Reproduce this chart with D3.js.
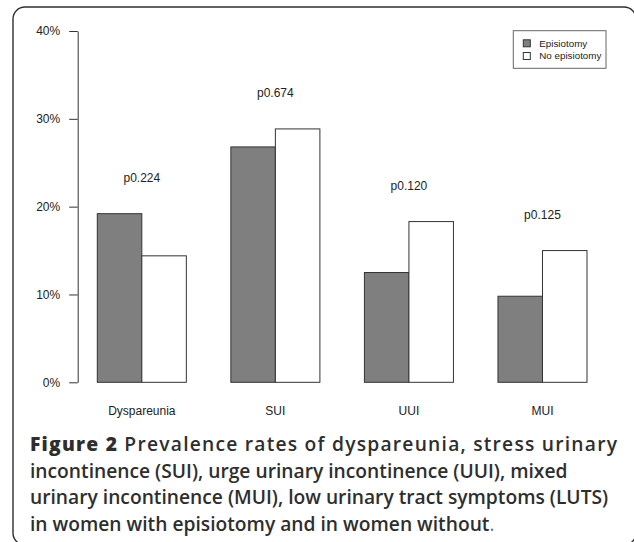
<!DOCTYPE html>
<html>
<head>
<meta charset="utf-8">
<script src="https://cdn.jsdelivr.net/npm/d3@7"></script>
<style>
body {margin: 0; background: #fff;}
svg {display: block;}
</style>
</head>
<body>
<script>
// prevalence (%)
var categories = ["Dyspareunia", "SUI", "UUI", "MUI"]
var groups = ["Episiotomy", "No episiotomy"]
var episiotomy = [19.2, 26.8, 12.5, 9.8]
var noEpisiotomy = [14.4, 28.85, 18.3, 15.0]
var pValues = ["p0.224", "p0.674", "p0.120", "p0.125"]
var yTicks = [0, 10, 20, 30, 40]

var captionLabel = "Figure 2"
var captionLines = [
    "Prevalence rates of dyspareunia, stress urinary",
    "incontinence (SUI), urge urinary incontinence (UUI), mixed",
    "urinary incontinence (MUI), low urinary tract symptoms (LUTS)",
    "in women with episiotomy and in women without"
]

var screen = {width: 634, height: 542}
var plot = {left: 97.3, right: 587, top: 31, bottom: 382.3, axisX: 77.7}

var svg = d3.select("body")
    .append("svg")
    .attr("width", screen.width)
    .attr("height", screen.height)

// frame around the figure
svg.append("rect")
    .attr("x", 13)
    .attr("y", 7)
    .attr("width", 623)
    .attr("height", 538)
    .attr("rx", 12)
    .attr("fill", "none")
    .attr("stroke", "#2f2f2f")
    .attr("stroke-width", 1.4)

var yScale = d3.scaleLinear()
    .domain([0, 40])
    .range([plot.bottom, plot.top])

var xScale = d3.scaleBand()
    .domain(categories)
    .range([plot.left, plot.right])
    .paddingInner(1/3)
    .paddingOuter(0)

var subScale = d3.scaleBand()
    .domain(groups)
    .range([0, xScale.bandwidth()])

var cScale = d3.scaleOrdinal()
    .domain(groups)
    .range(["#7f7f7f", "#ffffff"])

var yAxis = d3.axisLeft(yScale)
    .tickValues(yTicks)
    .tickFormat(function(d) {return d + "%"})
    .tickSize(8.5)
    .tickSizeOuter(0)
    .tickPadding(9)

var axisG = svg.append("g")
    .attr("transform", "translate(" + plot.axisX + ",0)")
    .call(yAxis)

axisG.selectAll("path, line").attr("stroke", "#333")
axisG.selectAll("text")
    .attr("font-family", "'Liberation Sans', Arial, sans-serif")
    .attr("font-size", 12)
    .attr("fill", "#222")

var rows = categories.map(function(c, i) {
    return {name: c, values: [episiotomy[i], noEpisiotomy[i]], p: pValues[i]}
})

var groupG = svg.append("g")
    .selectAll("g")
    .data(rows)
    .enter()
    .append("g")
    .attr("transform", function(d) {return "translate(" + xScale(d.name) + ",0)"})

groupG.selectAll("rect")
    .data(function(d) {
        return groups.map(function(g, j) {return {group: g, value: d.values[j]}})
    })
    .enter()
    .append("rect")
    .attr("x", function(d) {return subScale(d.group)})
    .attr("y", function(d) {return yScale(d.value)})
    .attr("width", subScale.bandwidth())
    .attr("height", function(d) {return yScale(0) - yScale(d.value)})
    .attr("fill", function(d) {return cScale(d.group)})
    .attr("stroke", "#333")
    .attr("stroke-width", 1)

// p values sit a little above the taller bar
groupG.append("text")
    .attr("x", xScale.bandwidth() / 2)
    .attr("y", function(d) {return yScale(d3.max(d.values) + 3.6)})
    .attr("text-anchor", "middle")
    .attr("font-family", "'Liberation Sans', Arial, sans-serif")
    .attr("font-size", 12)
    .attr("fill", "#222")
    .text(function(d) {return d.p})

groupG.append("text")
    .attr("x", xScale.bandwidth() / 2)
    .attr("y", 414.5)
    .attr("text-anchor", "middle")
    .attr("font-family", "'Liberation Sans', Arial, sans-serif")
    .attr("font-size", 12)
    .attr("fill", "#222")
    .text(function(d) {return d.name})

// legend
var legend = svg.append("g")
legend.append("rect")
    .attr("x", 513.3)
    .attr("y", 30.7)
    .attr("width", 92.7)
    .attr("height", 37.6)
    .attr("fill", "#fff")
    .attr("stroke", "#666")
    .attr("stroke-width", 1)

var item = legend.selectAll("g.item")
    .data(groups)
    .enter()
    .append("g")
    .attr("class", "item")
    .attr("transform", function(d, i) {return "translate(523.3," + (43.3 + i * 12.7) + ")"})

item.append("rect")
    .attr("x", 0)
    .attr("y", -3.5)
    .attr("width", 7)
    .attr("height", 7)
    .attr("fill", function(d) {return cScale(d)})
    .attr("stroke", "#333")
    .attr("stroke-width", 1)

item.append("text")
    .attr("x", 16)
    .attr("dy", "0.35em")
    .attr("font-family", "'Liberation Sans', Arial, sans-serif")
    .attr("font-size", 9.8)
    .attr("fill", "#222")
    .text(function(d) {return d})

// caption, first line stretched to the right edge like in the paper
var cap = {x: 30, y: 451, lineHeight: 26.7, lineTwoWidth: 538, lineOneEnd: 617}
var capFont = "'Open Sans', 'DejaVu Sans', sans-serif"
var capColor = "#2e2e2e"
var capWeight = 600

var probe = svg.append("text")
    .attr("font-family", capFont)
    .attr("font-size", 18)
    .attr("font-weight", capWeight)
    .text(captionLines[1])
var capSize = 18 * cap.lineTwoWidth / probe.node().getComputedTextLength()
probe.remove()

var capG = svg.append("g")
    .attr("font-family", capFont)
    .attr("font-size", capSize)
    .attr("font-weight", capWeight)
    .attr("fill", capColor)

var first = capG.append("text")
    .attr("x", cap.x)
    .attr("y", cap.y)
    .attr("textLength", cap.lineOneEnd - cap.x)
    .attr("lengthAdjust", "spacing")
first.append("tspan")
    .attr("font-weight", 800)
    .text(captionLabel + " ")
first.append("tspan")
    .text(captionLines[0])

capG.selectAll("text.line")
    .data(captionLines.slice(1))
    .enter()
    .append("text")
    .attr("class", "line")
    .attr("x", cap.x)
    .attr("y", function(d, i) {return cap.y + (i + 1) * cap.lineHeight})
    .text(function(d) {return d})

capG.select("text.line:last-child")
    .append("tspan")
    .attr("font-weight", 400)
    .attr("fill", "#777")
    .text(".")
</script>
</body>
</html>
